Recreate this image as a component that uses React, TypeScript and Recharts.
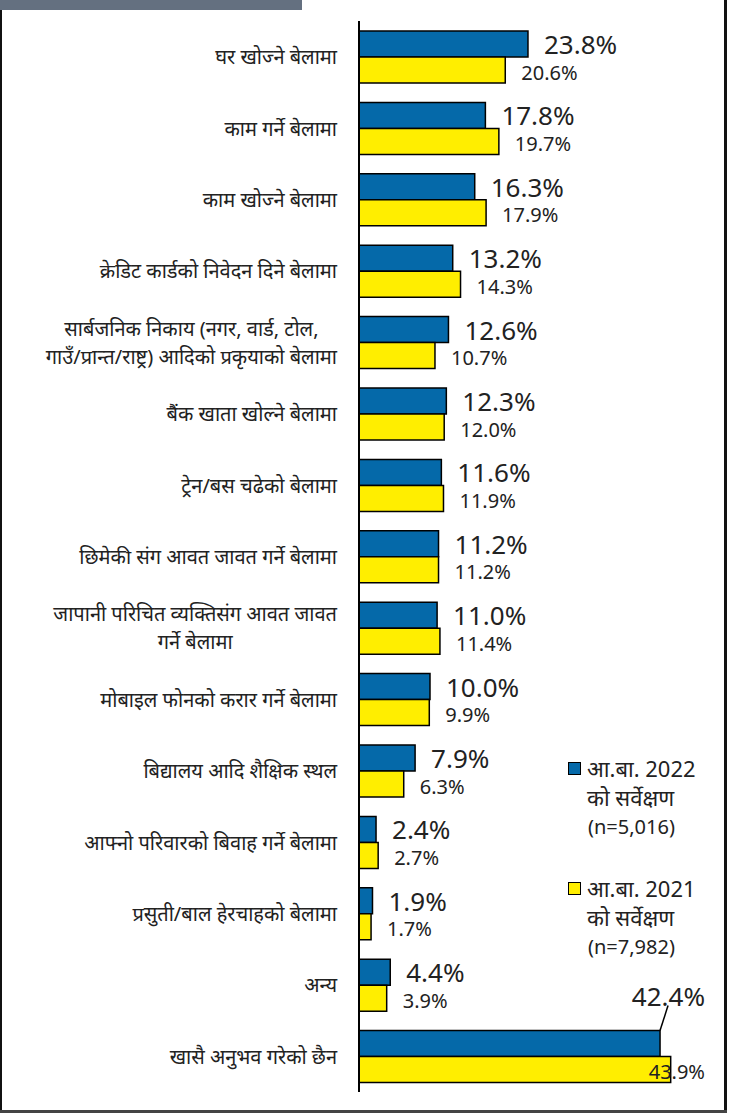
import React from 'react';
import { BarChart, Bar, XAxis, YAxis, LabelList, Legend } from 'recharts';

const categories: string[] = [
  'घर खोज्ने बेलामा',
  'काम गर्ने बेलामा',
  'काम खोज्ने बेलामा',
  'क्रेडिट कार्डको निवेदन दिने बेलामा',
  'सार्बजनिक निकाय (नगर, वार्ड, टोल,\nगाउँ/प्रान्त/राष्ट्र) आदिको प्रकृयाको बेलामा',
  'बैंक खाता खोल्ने बेलामा',
  'ट्रेन/बस चढेको बेलामा',
  'छिमेकी संग आवत जावत गर्ने बेलामा',
  'जापानी परिचित व्यक्तिसंग आवत जावत\nगर्ने बेलामा',
  'मोबाइल फोनको करार गर्ने बेलामा',
  'बिद्यालय आदि शैक्षिक स्थल',
  'आफ्नो परिवारको बिवाह गर्ने बेलामा',
  'प्रसुती/बाल हेरचाहको बेलामा',
  'अन्य',
  'खासै अनुभव गरेको छैन',
];

const survey2022: number[] = [23.8, 17.8, 16.3, 13.2, 12.6, 12.3, 11.6, 11.2, 11.0, 10.0, 7.9, 2.4, 1.9, 4.4, 42.4];
const survey2021: number[] = [20.6, 19.7, 17.9, 14.3, 10.7, 12.0, 11.9, 11.2, 11.4, 9.9, 6.3, 2.7, 1.7, 3.9, 43.9];

const seriesNames: string[] = ['आ.बा. 2022', 'आ.बा. 2021'];
const seriesSub: string[] = ['को सर्वेक्षण', 'को सर्वेक्षण'];
const seriesN: string[] = ['(n=5,016)', '(n=7,982)'];

const data = categories.map((name, i) => ({ name, y2022: survey2022[i], y2021: survey2021[i] }));

const W = 731;
const H = 1113;
const M = { top: 21, right: 17, bottom: 21, left: 0 };
const PLOT_RIGHT = W - M.right;
const FONT = '"Noto Sans", "Open Sans", sans-serif';
const BLUE = '#0569a9';
const YELLOW = '#ffee00';
const TXT = '#222';

let canvasCtx: CanvasRenderingContext2D | null = null;
function measure(text: string, font: string): number {
  if (typeof document === 'undefined') return text.length * 8;
  if (!canvasCtx) canvasCtx = document.createElement('canvas').getContext('2d');
  if (!canvasCtx) return text.length * 8;
  canvasCtx.font = font;
  return canvasCtx.measureText(text).width;
}

const TICK_SIZE = 20;

const CategoryTick = (props: any) => {
  const { x, y, payload } = props;
  const lines: string[] = String(payload.value).split('\n');
  if (lines.length === 1) {
    return (
      <text x={x} y={y} textAnchor="end" dominantBaseline="central" fontSize={TICK_SIZE} fontFamily={FONT} fill={TXT}>
        {lines[0]}
      </text>
    );
  }
  const maxW = Math.max(...lines.map((l) => measure(l, `${TICK_SIZE}px ${FONT}`)));
  const cx = x - maxW / 2;
  const lh = 28;
  const start = y - ((lines.length - 1) * lh) / 2;
  return (
    <g>
      {lines.map((l, i) => (
        <text key={i} x={cx} y={start + i * lh} textAnchor="middle" dominantBaseline="central" fontSize={TICK_SIZE} fontFamily={FONT} fill={TXT}>
          {l}
        </text>
      ))}
    </g>
  );
};

const makeLabel = (size: number, above: boolean, dy: number) => (props: any) => {
  const { x, y, width, height, value } = props;
  const text = `${Number(value).toFixed(1)}%`;
  const end = x + width;
  const tw = measure(text, `${size}px ${FONT}`);
  const off = 16;
  const overflow = end + off + tw > PLOT_RIGHT;
  if (!overflow) {
    return (
      <text x={end + off} y={y + height / 2 + dy} dominantBaseline="central" fontSize={size} fontFamily={FONT} fill={TXT}>
        {text}
      </text>
    );
  }
  if (above) {
    return (
      <g>
        <line x1={end} y1={y} x2={end + 8} y2={y - 25} stroke="#000" strokeWidth={1.5} />
        <text x={PLOT_RIGHT - 9} y={y - 35} textAnchor="end" dominantBaseline="central" fontSize={size} fontFamily={FONT} fill={TXT}>
          {text}
        </text>
      </g>
    );
  }
  return (
    <text x={PLOT_RIGHT - 9} y={y + height / 2 + dy} textAnchor="end" dominantBaseline="central" fontSize={size} fontFamily={FONT} fill={TXT}>
      {text}
    </text>
  );
};

const LegendContent = (props: any) => {
  const payload = [...(props.payload || [])].sort(
    (a: any, b: any) => seriesNames.indexOf(a.value) - seriesNames.indexOf(b.value)
  );
  return (
    <div style={{ fontFamily: FONT, color: TXT }}>
      {payload.map((p: any) => {
        const i = seriesNames.indexOf(p.value);
        return (
          <div key={i} style={{ position: 'relative', height: 120 }}>
            <div style={{ position: 'absolute', left: 0, top: 8, width: 11, height: 11, background: p.color, border: '1.5px solid #000' }} />
            <div style={{ position: 'absolute', left: 19, top: 0, fontSize: 22, lineHeight: '28px', whiteSpace: 'nowrap' }}>{seriesNames[i]}</div>
            <div style={{ position: 'absolute', left: 19, top: 29, fontSize: 22, lineHeight: '28px', whiteSpace: 'nowrap' }}>{seriesNames[i] ? seriesSub[i] : ''}</div>
            <div style={{ position: 'absolute', left: 20, top: 60, fontSize: 20, lineHeight: '26px', whiteSpace: 'nowrap' }}>{seriesN[i]}</div>
          </div>
        );
      })}
    </div>
  );
};

export default function App() {
  return (
    <div style={{ position: 'absolute', left: 0, top: 0, width: W, height: H, background: '#fff', overflow: 'hidden' }}>
      <div style={{ position: 'absolute', left: 0, top: 0, width: 302, height: 10, background: '#647080' }} />
      <div style={{ position: 'absolute', left: 0, top: 10, width: 2, height: H - 10, background: '#111' }} />
      <div style={{ position: 'absolute', left: 724, top: 0, width: 3, height: H, background: '#111' }} />
      <div style={{ position: 'absolute', left: 0, top: 1110, width: 727, height: 3, background: '#444' }} />
      <div style={{ position: 'absolute', left: 0, top: 0 }}>
        <BarChart width={W} height={H} data={data} layout="vertical" margin={M} barCategoryGap={10} barGap={0}>
          <XAxis type="number" domain={[0, 50]} hide />
          <YAxis
            type="category"
            dataKey="name"
            width={359}
            axisLine={{ stroke: '#000', strokeWidth: 2 }}
            tickLine={false}
            tickSize={0}
            tickMargin={22}
            tick={<CategoryTick />}
            interval={0}
          />
          <Legend
            layout="horizontal"
            verticalAlign="middle"
            align="center"
            content={<LegendContent />}
            wrapperStyle={{ position: 'absolute', left: 568, top: 754, width: 150, height: 240 }}
          />
          <Bar dataKey="y2022" name={seriesNames[0]} fill={BLUE} stroke="#000" strokeWidth={1.5} isAnimationActive={false}>
            <LabelList dataKey="y2022" content={makeLabel(26, true, 0)} />
          </Bar>
          <Bar dataKey="y2021" name={seriesNames[1]} fill={YELLOW} stroke="#000" strokeWidth={1.5} isAnimationActive={false}>
            <LabelList dataKey="y2021" content={makeLabel(20, false, 2)} />
          </Bar>
        </BarChart>
      </div>
    </div>
  );
}
